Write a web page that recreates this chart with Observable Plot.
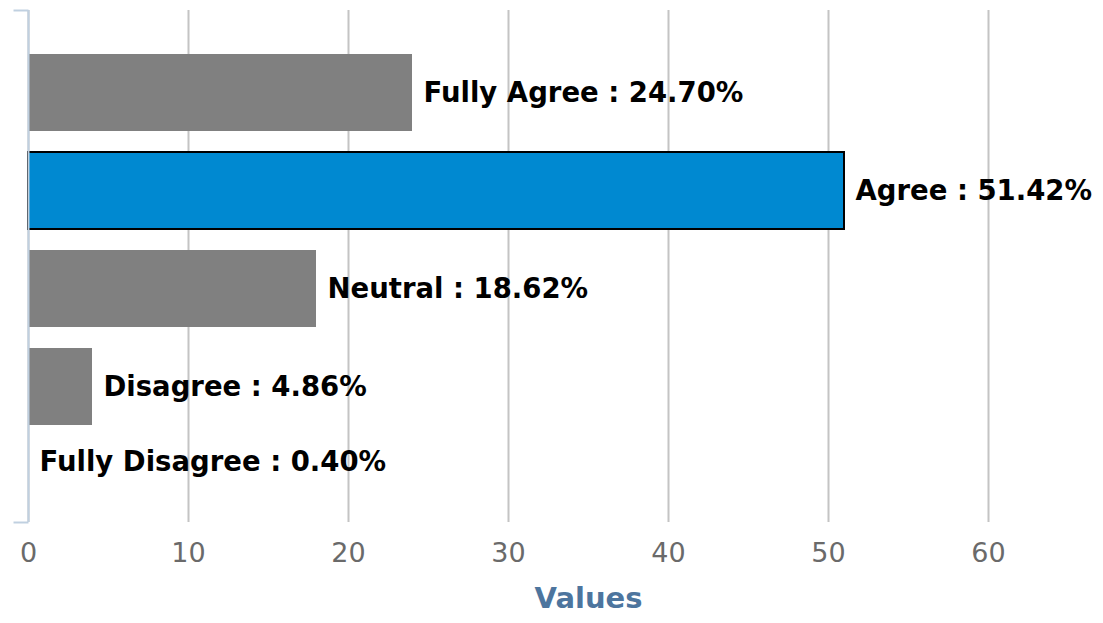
<!DOCTYPE html>
<html>
<head>
<meta charset="utf-8">
<script src="https://cdn.jsdelivr.net/npm/d3@7"></script>
<script src="https://cdn.jsdelivr.net/npm/@observablehq/plot@0.6"></script>
<style>
  html, body { margin: 0; padding: 0; background: #fff; }
</style>
</head>
<body>
<div id="chart"></div>
<script>
const categories = ["Fully Agree", "Agree", "Neutral", "Disagree", "Fully Disagree"];
const barValues = [24, 51, 18, 4, 0];
const percents = [24.70, 51.42, 18.62, 4.86, 0.40];
const highlighted = "Agree";
const xTicks = [0, 10, 20, 30, 40, 50, 60];
const axisTitle = "Values";

const data = categories.map((c, i) => ({category: c, bar: barValues[i], pct: percents[i]}));
const label = d => `${d.category} : ${d.pct.toFixed(2)}%`;

const endTick = {draw(ctx) { ctx.moveTo(-15, 0); ctx.lineTo(0, 0); }};

const chart = Plot.plot({
  width: 1103,
  height: 623,
  marginTop: 10,
  marginBottom: 101,
  marginLeft: 28,
  marginRight: 19,
  style: {fontFamily: "DejaVu Sans", background: "white"},
  x: {domain: [0, 66]},
  y: {domain: categories, range: [54, 523], paddingInner: 0.2143, paddingOuter: 0, axis: null},
  marks: [
    Plot.gridX(xTicks, {stroke: "#c4c4c4", strokeWidth: 2, strokeOpacity: 1}),
    Plot.axisX(xTicks, {tickSize: 0, tickPadding: 20, fontSize: 27, fill: "#6a6a6a", label: null}),
    Plot.barX(data, {
      x: "bar", y: "category",
      fill: d => d.category === highlighted ? "#0089d1" : "#808080",
      stroke: d => d.category === highlighted ? "#000" : "none",
      strokeWidth: 2
    }),
    Plot.ruleX([0], {stroke: "#c0d0e0", strokeWidth: 2}),
    Plot.dot([0], {frameAnchor: "top-left", symbol: endTick, stroke: "#c0d0e0", strokeWidth: 2, fill: "none"}),
    Plot.dot([0], {frameAnchor: "bottom-left", symbol: endTick, stroke: "#c0d0e0", strokeWidth: 2, fill: "none"}),
    Plot.text(data.filter(d => d.bar > 0), {
      x: "bar", y: "category", text: label,
      textAnchor: "start", dx: 11, fontSize: 27.5, fontWeight: "bold", fill: "#000"
    }),
    Plot.text(data.filter(d => d.bar === 0), {
      x: "bar", y: "category", text: label,
      textAnchor: "start", dx: 11, dy: -23, fontSize: 27.5, fontWeight: "bold", fill: "#000"
    }),
    Plot.text([axisTitle], {
      frameAnchor: "bottom", dx: 32, dy: 85, fontSize: 29, fontWeight: "bold", fill: "#4d759e"
    })
  ]
});
document.getElementById("chart").appendChild(chart);
</script>
</body>
</html>
